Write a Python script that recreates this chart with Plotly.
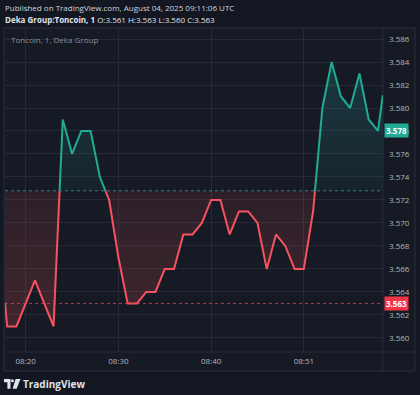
import plotly.graph_objects as go

# ---------------- data ----------------
bar_index = list(range(43))
prices = [3.570, 3.561, 3.561, 3.563, 3.565, 3.563, 3.561, 3.579, 3.576, 3.578,
          3.578, 3.574, 3.572, 3.567, 3.563, 3.563, 3.564, 3.564, 3.566, 3.566,
          3.569, 3.569, 3.570, 3.572, 3.572, 3.569, 3.571, 3.571, 3.570, 3.566,
          3.569, 3.568, 3.566, 3.566, 3.571, 3.580, 3.584, 3.581, 3.580, 3.583,
          3.579, 3.578, 3.584]
baseline = 3.5728
last_price = 3.578
prev_close = 3.563
time_tick_idx = [3, 13, 23, 33]
time_tick_text = ["08:20", "08:30", "08:40", "08:51"]
price_ticks = [3.560, 3.562, 3.564, 3.566, 3.568, 3.570, 3.572, 3.574, 3.576,
               3.578, 3.580, 3.582, 3.584, 3.586]
x_range = [0.767, 41.54]
y_range = [3.55878, 3.58687]

# ---------------- styles ----------------
W_FIG, H_FIG = 420, 395
L, R, T, B = 5, 37, 29, 43
PW, PH = W_FIG - L - R, H_FIG - T - B
TEAL = "#22ab94"
RED = "#f7525f"
GRID = "#262a35"
PANE = "#161a25"
PAPER = "#131722"
TXT = "#b2b5be"
FONT = "Open Sans"
FS = 8


def px(x):
    return (x - L) / PW


def py(y):
    return (T + PH - y) / PH


def path(points):
    return "M " + " L ".join("%.5f,%.5f" % (px(a), py(b)) for a, b in points) + " Z"


# split the line at baseline crossings
xs, ys = [], []
for i, (xi, yi) in enumerate(zip(bar_index, prices)):
    if i > 0:
        x0, y0 = bar_index[i - 1], prices[i - 1]
        if (y0 - baseline) * (yi - baseline) < 0:
            t = (baseline - y0) / (yi - y0)
            xs.append(x0 + t * (xi - x0))
            ys.append(baseline)
    xs.append(xi)
    ys.append(yi)


# clip the series to the visible x window (interpolating at the edges)
def clip_window(xv, yv, lo, hi):
    ox, oy = [], []
    for k in range(len(xv)):
        if lo <= xv[k] <= hi:
            if k > 0 and xv[k - 1] < lo:
                t = (lo - xv[k - 1]) / (xv[k] - xv[k - 1])
                ox.append(lo)
                oy.append(yv[k - 1] + t * (yv[k] - yv[k - 1]))
            ox.append(xv[k])
            oy.append(yv[k])
            if k + 1 < len(xv) and xv[k + 1] > hi:
                t = (hi - xv[k]) / (xv[k + 1] - xv[k])
                ox.append(hi)
                oy.append(yv[k] + t * (yv[k + 1] - yv[k]))
    return ox, oy


xs, ys = clip_window(xs, ys, x_range[0], x_range[1] - 0.02)

up_fill = [max(v, baseline) for v in ys]
dn_fill = [min(v, baseline) for v in ys]
up_line = [v if v >= baseline else None for v in ys]
dn_line = [v if v <= baseline else None for v in ys]
base_y = [baseline] * len(xs)

fig = go.Figure()
fig.add_trace(go.Scatter(x=xs, y=base_y, mode="lines", line=dict(width=0),
                         hoverinfo="skip", showlegend=False))
fig.add_trace(go.Scatter(x=xs, y=up_fill, mode="lines", line=dict(width=0),
                         fill="tonexty",
                         fillgradient=dict(type="vertical",
                                           colorscale=[[0, "rgba(38,166,154,0.06)"],
                                                       [1, "rgba(38,166,154,0.24)"]]),
                         hoverinfo="skip", showlegend=False))
fig.add_trace(go.Scatter(x=xs, y=base_y, mode="lines", line=dict(width=0),
                         hoverinfo="skip", showlegend=False))
fig.add_trace(go.Scatter(x=xs, y=dn_fill, mode="lines", line=dict(width=0),
                         fill="tonexty",
                         fillgradient=dict(type="vertical",
                                           colorscale=[[0, "rgba(239,83,80,0.20)"],
                                                       [1, "rgba(239,83,80,0.10)"]]),
                         hoverinfo="skip", showlegend=False))
fig.add_trace(go.Scatter(x=xs, y=dn_line, mode="lines",
                         line=dict(color=RED, width=2, simplify=False),
                         showlegend=False))
fig.add_trace(go.Scatter(x=xs, y=up_line, mode="lines",
                         line=dict(color=TEAL, width=2, simplify=False),
                         showlegend=False))

shapes = [
    # pane background / border
    dict(type="rect", xref="paper", yref="paper", x0=px(4), x1=px(415), y0=py(371), y1=py(28),
         fillcolor=PANE, line=dict(color="#2a2e39", width=1), layer="below"),
    # separators
    dict(type="line", xref="paper", yref="paper", x0=1, x1=1, y0=py(371), y1=py(28),
         line=dict(color=GRID, width=1), layer="below"),
    dict(type="line", xref="paper", yref="paper", x0=px(4), x1=px(415), y0=0, y1=0,
         line=dict(color=GRID, width=1), layer="below"),
    # baseline and previous close dotted lines
    dict(type="line", xref="paper", yref="y", x0=0, x1=1, y0=baseline, y1=baseline,
         line=dict(color="rgba(38,166,154,0.8)", width=1, dash="dot")),
    dict(type="line", xref="paper", yref="y", x0=0, x1=1, y0=prev_close, y1=prev_close,
         line=dict(color="rgba(242,54,69,0.8)", width=1, dash="dot")),
    # TradingView logo
    dict(type="path", xref="paper", yref="paper", line=dict(width=0), fillcolor="#e0e3eb",
         path=path([(4, 379), (10.5, 379), (10.5, 388.7), (7.4, 388.7), (7.4, 382.3), (4, 382.3)])),
    dict(type="circle", xref="paper", yref="paper", line=dict(width=0), fillcolor="#e0e3eb",
         x0=px(10.9), x1=px(13.9), y0=py(382.2), y1=py(379.2)),
    dict(type="path", xref="paper", yref="paper", line=dict(width=0), fillcolor="#e0e3eb",
         path=path([(15.6, 379), (20.5, 379), (16.6, 388.7), (12.6, 388.7)])),
]

annotations = [
    dict(text="Published on TradingView.com, August 04, 2025 09:11:06 UTC",
         xref="paper", yref="paper", x=px(3), y=py(8), xanchor="left", yanchor="middle",
         showarrow=False, font=dict(family=FONT, size=FS, color="#d1d4dc")),
    dict(text="<b>Deka Group:Toncoin, 1</b> O:3.561 H:3.563 L:3.560 C:3.563",
         xref="paper", yref="paper", x=px(3), y=py(19.5), xanchor="left", yanchor="middle",
         showarrow=False, font=dict(family=FONT, size=FS, color="#e0e3eb")),
    dict(text="Toncoin, 1, Deka Group",
         xref="paper", yref="paper", x=px(9), y=py(39), xanchor="left", yanchor="middle",
         showarrow=False, font=dict(family=FONT, size=FS, color="#8a8d96")),
    dict(text="<b>TradingView</b>",
         xref="paper", yref="paper", x=px(21), y=py(383.5), xanchor="left", yanchor="middle",
         showarrow=False, font=dict(family=FONT, size=10, color="#e0e3eb")),
    dict(text="<b>%.3f</b>" % last_price, xref="paper", yref="y", x=px(384), y=last_price,
         xanchor="left", yanchor="middle", showarrow=False, bgcolor=TEAL, borderpad=1,
         font=dict(family=FONT, size=FS, color="#ffffff")),
    dict(text="<b>%.3f</b>" % prev_close, xref="paper", yref="y", x=px(384), y=prev_close,
         xanchor="left", yanchor="middle", showarrow=False, bgcolor="#f23645", borderpad=1,
         font=dict(family=FONT, size=FS, color="#ffffff")),
]

fig.update_layout(
    width=W_FIG, height=H_FIG,
    margin=dict(l=L, r=R, t=T, b=B),
    paper_bgcolor=PAPER, plot_bgcolor=PANE,
    shapes=shapes, annotations=annotations,
    font=dict(family=FONT, color=TXT, size=FS),
    xaxis=dict(range=x_range, tickvals=time_tick_idx, ticktext=time_tick_text,
               showgrid=True, gridcolor=GRID, gridwidth=1, zeroline=False,
               showline=False, ticks="", ticklabelstandoff=3,
               tickfont=dict(size=FS, color=TXT)),
    yaxis=dict(range=y_range, side="right", tickvals=price_ticks,
               tickformat=".3f", showgrid=True, gridcolor=GRID, gridwidth=1,
               zeroline=False, showline=False, ticks="", ticklabelstandoff=5,
               tickfont=dict(size=FS, color=TXT)),
    hovermode=False,
)

fig.write_html("out.html", config={"displayModeBar": False},
               post_script="document.body.style.margin='0';")
